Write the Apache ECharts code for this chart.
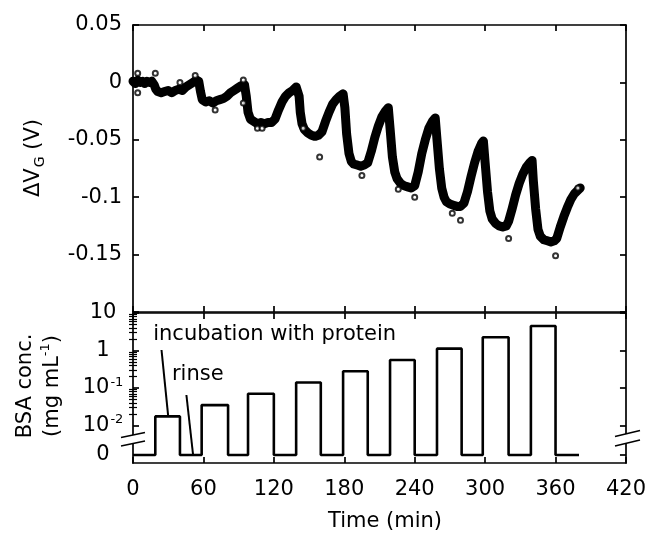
<!DOCTYPE html>
<html><head><meta charset="utf-8">
<script src="https://cdn.jsdelivr.net/npm/echarts@6/dist/echarts.min.js"></script>
<style>html,body{margin:0;padding:0;background:#fff}#c{width:649px;height:536px}</style>
</head><body><div id="c"></div>
<script>
// ---- data ----
// top panel: gate voltage shift ΔVG (V) vs time (min)
const dvgPoints = [
 [0,0.001],[2,-0.001],[4,0.002],[6,0.0],[8,0.001],[10,-0.001],[12,0.001],[14,0.0],[16,0.001],[18,-0.002],
 [19.5,-0.006],[21,-0.008],[24,-0.009],[27,-0.008],[30,-0.007],[33,-0.009],[36,-0.007],[39,-0.006],[42,-0.007],[45,-0.004],
 [48,-0.002],[51,0.0],[54,0.002],[56,0.001],[57.5,-0.008],[59,-0.015],[62,-0.017],[65,-0.016],[68,-0.018],[71,-0.016],
 [74,-0.015],[77,-0.014],[80,-0.012],[83,-0.009],[86,-0.007],[89,-0.005],[92,-0.003],[95,-0.002],[96.5,-0.012],[98,-0.026],
 [100,-0.032],[103,-0.034],[106,-0.036],[109,-0.035],[112,-0.036],[115,-0.035],[118,-0.035],[121,-0.032],[124,-0.024],[127,-0.017],
 [130,-0.012],[133,-0.009],[136,-0.007],[139,-0.004],[140.5,-0.003],[141.5,-0.012],[142.5,-0.026],[144,-0.036],[146,-0.041],[149,-0.044],
 [152,-0.046],[155,-0.047],[158,-0.046],[161,-0.043],[164,-0.034],[167,-0.026],[170,-0.019],[173,-0.015],[176,-0.012],[179,-0.010],
 [180.5,-0.022],[182,-0.045],[184,-0.062],[186,-0.069],[188,-0.071],[191,-0.072],[194,-0.073],[197,-0.072],[200,-0.070],[203,-0.060],
 [206,-0.048],[209,-0.038],[212,-0.030],[215,-0.025],[217.5,-0.022],[219,-0.040],[221,-0.065],[223,-0.078],[225,-0.084],[228,-0.088],
 [231,-0.090],[234,-0.091],[237,-0.092],[240,-0.090],[243,-0.078],[246,-0.062],[249,-0.050],[252,-0.040],[255,-0.034],[257.5,-0.031],
 [259,-0.050],[261,-0.075],[263,-0.092],[265,-0.100],[267,-0.104],[270,-0.106],[273,-0.107],[276,-0.108],[279,-0.108],[282,-0.105],
 [285,-0.095],[288,-0.082],[291,-0.070],[294,-0.060],[297,-0.053],[298.5,-0.051],[300,-0.070],[302,-0.095],[304,-0.112],[306,-0.119],
 [309,-0.123],[312,-0.125],[315,-0.126],[318,-0.125],[320,-0.121],[323,-0.110],[326,-0.098],[329,-0.088],[332,-0.080],[335,-0.074],
 [338,-0.070],[340,-0.068],[341,-0.085],[343,-0.110],[345,-0.128],[347,-0.134],[350,-0.137],[353,-0.138],[356,-0.139],[359,-0.138],
 [361,-0.136],[364,-0.126],[367,-0.117],[370,-0.109],[373,-0.102],[376,-0.097],[379,-0.094],[381,-0.092]
];
// individually visible open-circle points
const markerPoints = [
 [4,0.008],[19,0.008],[4,-0.009],[40,0.0],[53,0.006],[70,-0.024],[94,0.002],[94,-0.018],
 [106,-0.040],[110,-0.040],[145,-0.040],[159,-0.065],[195,-0.081],[226,-0.093],[240,-0.100],
 [272,-0.114],[279,-0.120],[320,-0.136],[360,-0.151],[379,-0.092]
];
// bottom panel: BSA concentration (mg/mL) during incubation steps
const incubStart = [19, 58.5, 98, 139, 179, 219, 259, 298, 339];
const incubEnd   = [40, 81, 120, 160, 200, 240, 280, 320, 360];
const bsaConc    = [0.0175, 0.035, 0.07, 0.14, 0.28, 0.56, 1.12, 2.25, 4.5];
const traceEnd   = 380;
const xTicks = [0, 60, 120, 180, 240, 300, 360, 420];
const topYTicks = [0.05, 0, -0.05, -0.1, -0.15];
const concDecades = [1, 0, -1, -2];           // log10 of 10, 1, 0.1, 0.01
const decadeLabels = ['{n|10}', '{n|1}', '{n|10}{sup|-1}', '{n|10}{sup|-2}'];
const ZERO_POS = -2.787;                       // where "0" sits below the axis break

// ---- build ----
const FONT = 'DejaVu Sans';
const toAxis = c => c > 0 ? Math.log10(c) : ZERO_POS;
const stepData = [[0, toAxis(0)]];
for (let i = 0; i < bsaConc.length; i++) {
  stepData.push([incubStart[i], toAxis(bsaConc[i])]);
  stepData.push([incubEnd[i], toAxis(0)]);
}
stepData.push([traceEnd, toAxis(0)]);

const minorVals = [];
for (let n = -2; n <= 0; n++) for (let k = 2; k <= 9; k++) minorVals.push(n + Math.log10(k));
const majorVals = concDecades.concat([ZERO_POS]);

const LS = {color:'#000', width:1.7};
function xAx(grid, pos, labels) {
  return {gridIndex:grid, type:'value', min:0, max:420, interval:60, position:pos,
    axisLine:{show:true, onZero:false, lineStyle:LS},
    axisTick:{show:true, inside:true, length:6, lineStyle:LS},
    axisLabel:{show:labels, margin:16, fontSize:21, fontFamily:FONT, color:'#000'},
    splitLine:{show:false}};
}
const bottomYBase = {gridIndex:1, type:'value', min:-3, max:1,
  axisLine:{show:true, onZero:false, lineStyle:LS}, splitLine:{show:false}};

const chart = echarts.init(document.getElementById('c'), null, {renderer:'canvas'});
chart.setOption({
  animation:false,
  backgroundColor:'#fff',
  grid:[
    {left:133, right:23, top:25, height:287},
    {left:133, right:23, top:313, height:150}
  ],
  xAxis:[xAx(0,'bottom',false), xAx(0,'top',false), xAx(1,'bottom',true), xAx(1,'top',false)],
  yAxis:[
    {gridIndex:0, type:'value', min:-0.2, max:0.05, interval:0.05, position:'left',
     axisLine:{show:true, onZero:false, lineStyle:LS},
     axisTick:{show:true, inside:true, length:6, lineStyle:LS},
     axisLabel:{margin:11, fontSize:21, fontFamily:FONT, color:'#000',
       formatter: v => topYTicks.some(t => Math.abs(t - v) < 1e-9) ? String(+v.toFixed(2)) : ''},
     splitLine:{show:false}},
    {gridIndex:0, type:'value', min:-0.2, max:0.05, interval:0.05, position:'right',
     axisLine:{show:true, onZero:false, lineStyle:LS},
     axisTick:{show:true, inside:true, length:6, lineStyle:LS},
     axisLabel:{show:false}, splitLine:{show:false}},
    Object.assign({}, bottomYBase, {position:'left',
     axisTick:{show:true, inside:true, length:6, lineStyle:LS, customValues:majorVals},
     axisLabel:{show:true, customValues:majorVals, margin:30, align:'center', color:'#000',
       formatter: v => {
         const i = concDecades.findIndex(d => Math.abs(d - v) < 1e-6);
         return i >= 0 ? decadeLabels[i] : '{n|0}';
       },
       rich:{n:{fontSize:21, fontFamily:FONT, color:'#000', lineHeight:24},
             sup:{fontSize:13, fontFamily:FONT, color:'#000', lineHeight:24, verticalAlign:'top', padding:[0,0,10,1]}}}}),
    Object.assign({}, bottomYBase, {position:'left', axisLine:{show:false},
     axisTick:{show:true, inside:true, length:4, lineStyle:{color:'#000', width:1.2}, customValues:minorVals},
     axisLabel:{show:false}}),
    Object.assign({}, bottomYBase, {position:'right',
     axisTick:{show:true, inside:true, length:6, lineStyle:LS, customValues:majorVals},
     axisLabel:{show:false}}),
    Object.assign({}, bottomYBase, {position:'right', axisLine:{show:false},
     axisTick:{show:true, inside:true, length:4, lineStyle:{color:'#000', width:1.2}, customValues:minorVals},
     axisLabel:{show:false}})
  ],
  series:[
    {type:'line', xAxisIndex:0, yAxisIndex:0, data:dvgPoints, symbol:'none', smooth:false,
     lineStyle:{color:'#000', width:9, join:'round', cap:'round'}, z:2},
    {type:'scatter', xAxisIndex:0, yAxisIndex:0, data:markerPoints, symbol:'emptyCircle', symbolSize:5,
     itemStyle:{color:'#000', borderWidth:1.2}, z:3},
    {type:'line', xAxisIndex:2, yAxisIndex:2, data:stepData, step:'end', symbol:'none',
     lineStyle:{color:'#000', width:2.6}, z:2}
  ]
});

// annotations anchored in data coordinates of the bottom panel
const P = (t, v) => chart.convertToPixel({gridIndex:1}, [t, v]);
const incText = P(17.2, 0.413), incA = P(24.3, 0.013), incB = P(30, toAxis(bsaConc[0]));
const rinText = P(33.2, -0.653), rinA = P(45.5, -1.187), rinB = P(51.2, toAxis(0));
const TS = {fontSize:21, fontFamily:FONT, fill:'#000'};

function breakMark(x1, x2, yUp1, yUp2, gap) {
  return [
    {type:'polygon', shape:{points:[[x1,yUp1],[x2,yUp2],[x2,yUp2+gap],[x1,yUp1+gap]]},
     style:{fill:'#fff'}, z:100},
    {type:'line', shape:{x1:x1, y1:yUp1, x2:x2, y2:yUp2}, style:{stroke:'#000', lineWidth:1.5}, z:101},
    {type:'line', shape:{x1:x1, y1:yUp1+gap, x2:x2, y2:yUp2+gap}, style:{stroke:'#000', lineWidth:1.5}, z:101}
  ];
}

chart.setOption({graphic:[
  {type:'text', x:incText[0], y:incText[1], style:Object.assign({text:'incubation with protein', verticalAlign:'middle'}, TS), z:50},
  {type:'line', shape:{x1:incA[0], y1:incA[1], x2:incB[0], y2:incB[1]}, style:{stroke:'#000', lineWidth:2}, z:50},
  {type:'text', x:rinText[0], y:rinText[1], style:Object.assign({text:'rinse', verticalAlign:'middle'}, TS), z:50},
  {type:'line', shape:{x1:rinA[0], y1:rinA[1], x2:rinB[0], y2:rinB[1]}, style:{stroke:'#000', lineWidth:2}, z:50},
  ...breakMark(121, 145, 437.5, 432.5, 8.5),
  ...breakMark(615, 640, 436.5, 430.5, 9.5),
  {type:'text', x:34, y:158, rotation:Math.PI/2,
   style:{text:'{a|ΔV}{s|G}{a| (V)}', align:'center', verticalAlign:'middle',
     rich:{a:{fontSize:21, fontFamily:FONT, fill:'#000', lineHeight:26},
           s:{fontSize:14, fontFamily:FONT, fill:'#000', lineHeight:26, verticalAlign:'bottom', padding:[8,0,0,1]}}}},
  {type:'text', x:39, y:386, rotation:Math.PI/2,
   style:{text:'{a|BSA conc.}\n{a|(mg mL}{s|-1}{a|)}', align:'center', verticalAlign:'middle',
     rich:{a:{fontSize:21, fontFamily:FONT, fill:'#000', lineHeight:27, align:'center'},
           s:{fontSize:13, fontFamily:FONT, fill:'#000', lineHeight:27, verticalAlign:'top', padding:[0,0,10,0]}}}},
  {type:'text', x:385, y:522, style:{text:'Time (min)', align:'center', verticalAlign:'middle', fontSize:21, fontFamily:FONT, fill:'#000'}}
]});
</script></body></html>
